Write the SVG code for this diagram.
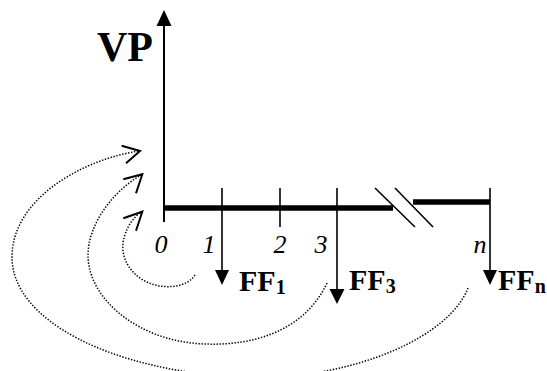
<svg xmlns="http://www.w3.org/2000/svg" width="547" height="371" viewBox="0 0 547 371">
<style>
.ax{stroke:#000;stroke-width:2;fill:none}
.thick{stroke:#000;stroke-width:5.5;fill:none}
.tk{stroke:#000;stroke-width:1.6;fill:none}
.dot{stroke:#000;stroke-width:1.5;fill:none;stroke-dasharray:1.4 1.6}
.vh{stroke:#000;stroke-width:2;fill:none;stroke-linejoin:miter}
.head{fill:#000}
text{font-family:"Liberation Serif","DejaVu Serif","Times New Roman",serif}
.lbl{font-style:italic;font-size:26px;text-anchor:middle}
.ff{font-weight:bold;font-size:30px}
.vp{font-weight:bold;font-size:42px}
.sub{font-size:20px}
</style>
<rect width="547" height="371" fill="#fff"/>
<g id="axis-vp">
<line class="ax" x1="164" y1="24" x2="164" y2="222"/>
<polygon class="head" points="164,10 156.5,26 171.5,26"/>
<text class="vp" x="97" y="61">VP</text>
</g>
<g id="timeline">
<line class="thick" x1="164" y1="208" x2="393" y2="208"/>
<line class="thick" x1="413" y1="202" x2="490" y2="202"/>
<line class="tk" x1="375" y1="188" x2="415" y2="227"/>
<line class="tk" x1="395" y1="188" x2="433" y2="227"/>
<line class="tk" x1="280" y1="188" x2="280" y2="227"/>
<text class="lbl" x="161" y="253">0</text>
<text class="lbl" x="209" y="253">1</text>
<text class="lbl" x="280" y="253">2</text>
<text class="lbl" x="321" y="253">3</text>
<text class="lbl" x="480" y="253">n</text>
</g>
<g id="ff1">
<line class="tk" x1="222" y1="188" x2="222" y2="272"/>
<polygon class="head" points="222,285 215,270 229,270"/>
<text class="ff" x="239" y="291">FF<tspan class="sub" dy="3">1</tspan></text>
</g>
<g id="ff3">
<line class="tk" x1="337" y1="188" x2="337" y2="291"/>
<polygon class="head" points="337,304 329.5,289 344.5,289"/>
<text class="ff" x="349" y="290">FF<tspan class="sub" dy="3">3</tspan></text>
</g>
<g id="ffn">
<line class="tk" x1="490" y1="188" x2="490" y2="272"/>
<polygon class="head" points="490,285 483,270 497,270"/>
<text class="ff" x="498" y="290">FF<tspan class="sub" dy="3">n</tspan></text>
</g>
<g id="connectors">
<path class="dot" d="M195,275 C186,289 160,290 143,280 C126,270 120,252 124,238 C127,226 134,217 141,212"/>
<polyline class="vh" points="123.3,218.3 142.3,211.7 136,230.7"/>
<path class="dot" d="M327,283 C305,330 255,346 205,344 C140,342 88,300 88,255 C88,225 112,192 141,175"/>
<polyline class="vh" points="123.3,179.3 142.3,174.3 136,193.3"/>
<path class="dot" d="M468,288 C450,335 360,378 250,378 C110,372 12,320 12,257 C12,200 80,160 139,151"/>
<polyline class="vh" points="121.7,145.7 140,151 126,163.3"/>
</g>
</svg>
